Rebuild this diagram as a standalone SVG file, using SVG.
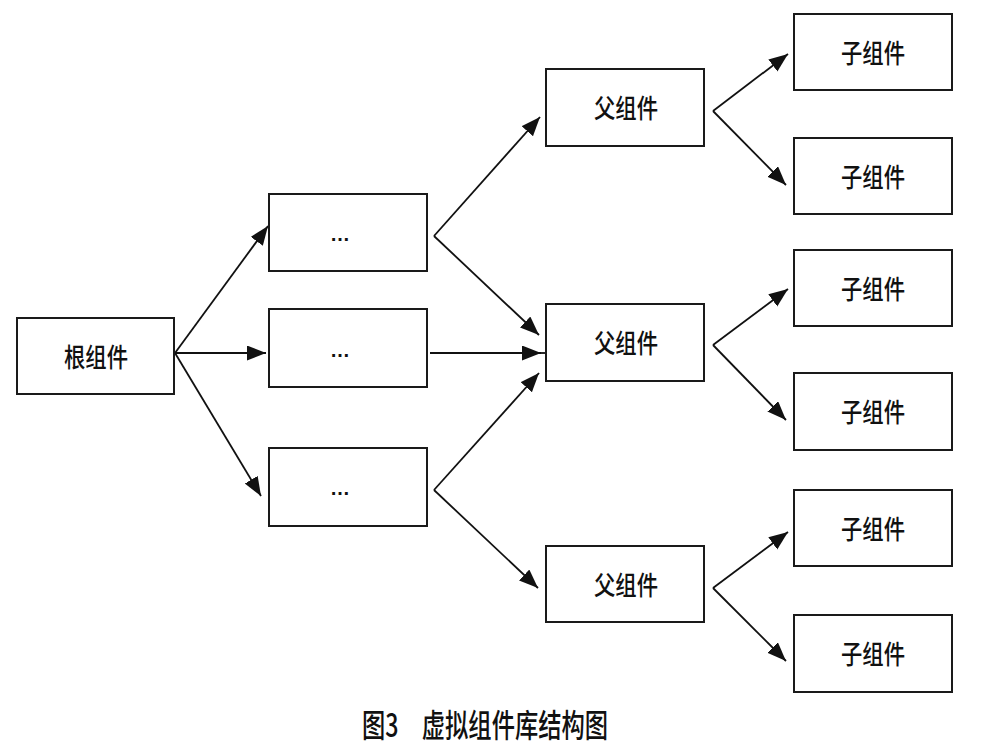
<svg xmlns="http://www.w3.org/2000/svg" width="1000" height="745" viewBox="0 0 1000 745">
<style>
.box{fill:#fff;stroke:#1a1a1a;stroke-width:2}
.lbl{font-family:"Noto Sans CJK SC","Noto Sans",sans-serif;font-size:26px;font-weight:500;fill:#111;text-anchor:middle;dominant-baseline:central}
.dots{font-family:"Liberation Sans",sans-serif;font-size:20px;font-weight:bold;fill:#111;text-anchor:middle;dominant-baseline:central}
.cn{fill:none;stroke:#111;stroke-width:1.8;marker-end:url(#ah)}
.cap{font-family:"Noto Sans CJK SC",sans-serif;font-size:29px;font-weight:500;fill:#111}
</style>
<defs>
<marker id="ah" markerUnits="userSpaceOnUse" markerWidth="22" markerHeight="16" refX="19" refY="7.5" orient="auto">
<path d="M0,0 L19,7.5 L0,15 z" fill="#111"/>
</marker>
</defs>
<rect width="1000" height="745" fill="#fff"/>
<g id="connectors">
<line class="cn" x1="175" y1="353" x2="268" y2="226"/>
<line class="cn" x1="175" y1="353" x2="266" y2="353"/>
<line class="cn" x1="175" y1="353" x2="261" y2="496"/>
<line class="cn" x1="434" y1="236" x2="540" y2="117"/>
<line class="cn" x1="434" y1="236" x2="539" y2="335"/>
<line class="cn" x1="430" y1="353" x2="541" y2="353"/>
<line x1="530" y1="353" x2="546" y2="353" stroke="#111" stroke-width="1.8"/>
<line class="cn" x1="434" y1="490" x2="539" y2="373"/>
<line class="cn" x1="434" y1="490" x2="538" y2="588"/>
<line class="cn" x1="713" y1="111" x2="788" y2="54"/>
<line class="cn" x1="713" y1="111" x2="786" y2="185"/>
<line class="cn" x1="713" y1="345" x2="788" y2="289"/>
<line class="cn" x1="713" y1="345" x2="786" y2="420"/>
<line class="cn" x1="713" y1="588" x2="788" y2="532"/>
<line class="cn" x1="713" y1="588" x2="786" y2="661"/>
</g>
<g id="root"><rect class="box" x="17" y="318" width="157" height="76"/><text class="lbl" x="96" y="355" textLength="64" lengthAdjust="spacingAndGlyphs">根组件</text></g>
<g id="mid1"><rect class="box" x="269" y="194" width="158" height="77"/><text class="dots" x="340" y="234">…</text></g>
<g id="mid2"><rect class="box" x="269" y="309" width="158" height="78"/><text class="dots" x="340" y="350">…</text></g>
<g id="mid3"><rect class="box" x="269" y="448" width="158" height="78"/><text class="dots" x="340" y="488">…</text></g>
<g id="parent1"><rect class="box" x="546" y="69" width="158" height="77"/><text class="lbl" x="626" y="106" textLength="64" lengthAdjust="spacingAndGlyphs">父组件</text></g>
<g id="parent2"><rect class="box" x="546" y="304" width="158" height="77"/><text class="lbl" x="626" y="341" textLength="64" lengthAdjust="spacingAndGlyphs">父组件</text></g>
<g id="parent3"><rect class="box" x="546" y="546" width="158" height="76"/><text class="lbl" x="626" y="583" textLength="64" lengthAdjust="spacingAndGlyphs">父组件</text></g>
<g id="child1"><rect class="box" x="794" y="14" width="158" height="76"/><text class="lbl" x="873" y="51" textLength="64" lengthAdjust="spacingAndGlyphs">子组件</text></g>
<g id="child2"><rect class="box" x="794" y="138" width="158" height="76"/><text class="lbl" x="873" y="175" textLength="64" lengthAdjust="spacingAndGlyphs">子组件</text></g>
<g id="child3"><rect class="box" x="794" y="250" width="158" height="76"/><text class="lbl" x="873" y="287" textLength="64" lengthAdjust="spacingAndGlyphs">子组件</text></g>
<g id="child4"><rect class="box" x="794" y="373" width="158" height="77"/><text class="lbl" x="873" y="410" textLength="64" lengthAdjust="spacingAndGlyphs">子组件</text></g>
<g id="child5"><rect class="box" x="794" y="490" width="158" height="76"/><text class="lbl" x="873" y="527" textLength="64" lengthAdjust="spacingAndGlyphs">子组件</text></g>
<g id="child6"><rect class="box" x="794" y="615" width="158" height="77"/><text class="lbl" x="873" y="652" textLength="64" lengthAdjust="spacingAndGlyphs">子组件</text></g>
<g id="caption"><text class="cap" transform="translate(362,737) scale(1,1.1)" x="0" y="0" textLength="246" lengthAdjust="spacingAndGlyphs">图3　虚拟组件库结构图</text></g>
</svg>
